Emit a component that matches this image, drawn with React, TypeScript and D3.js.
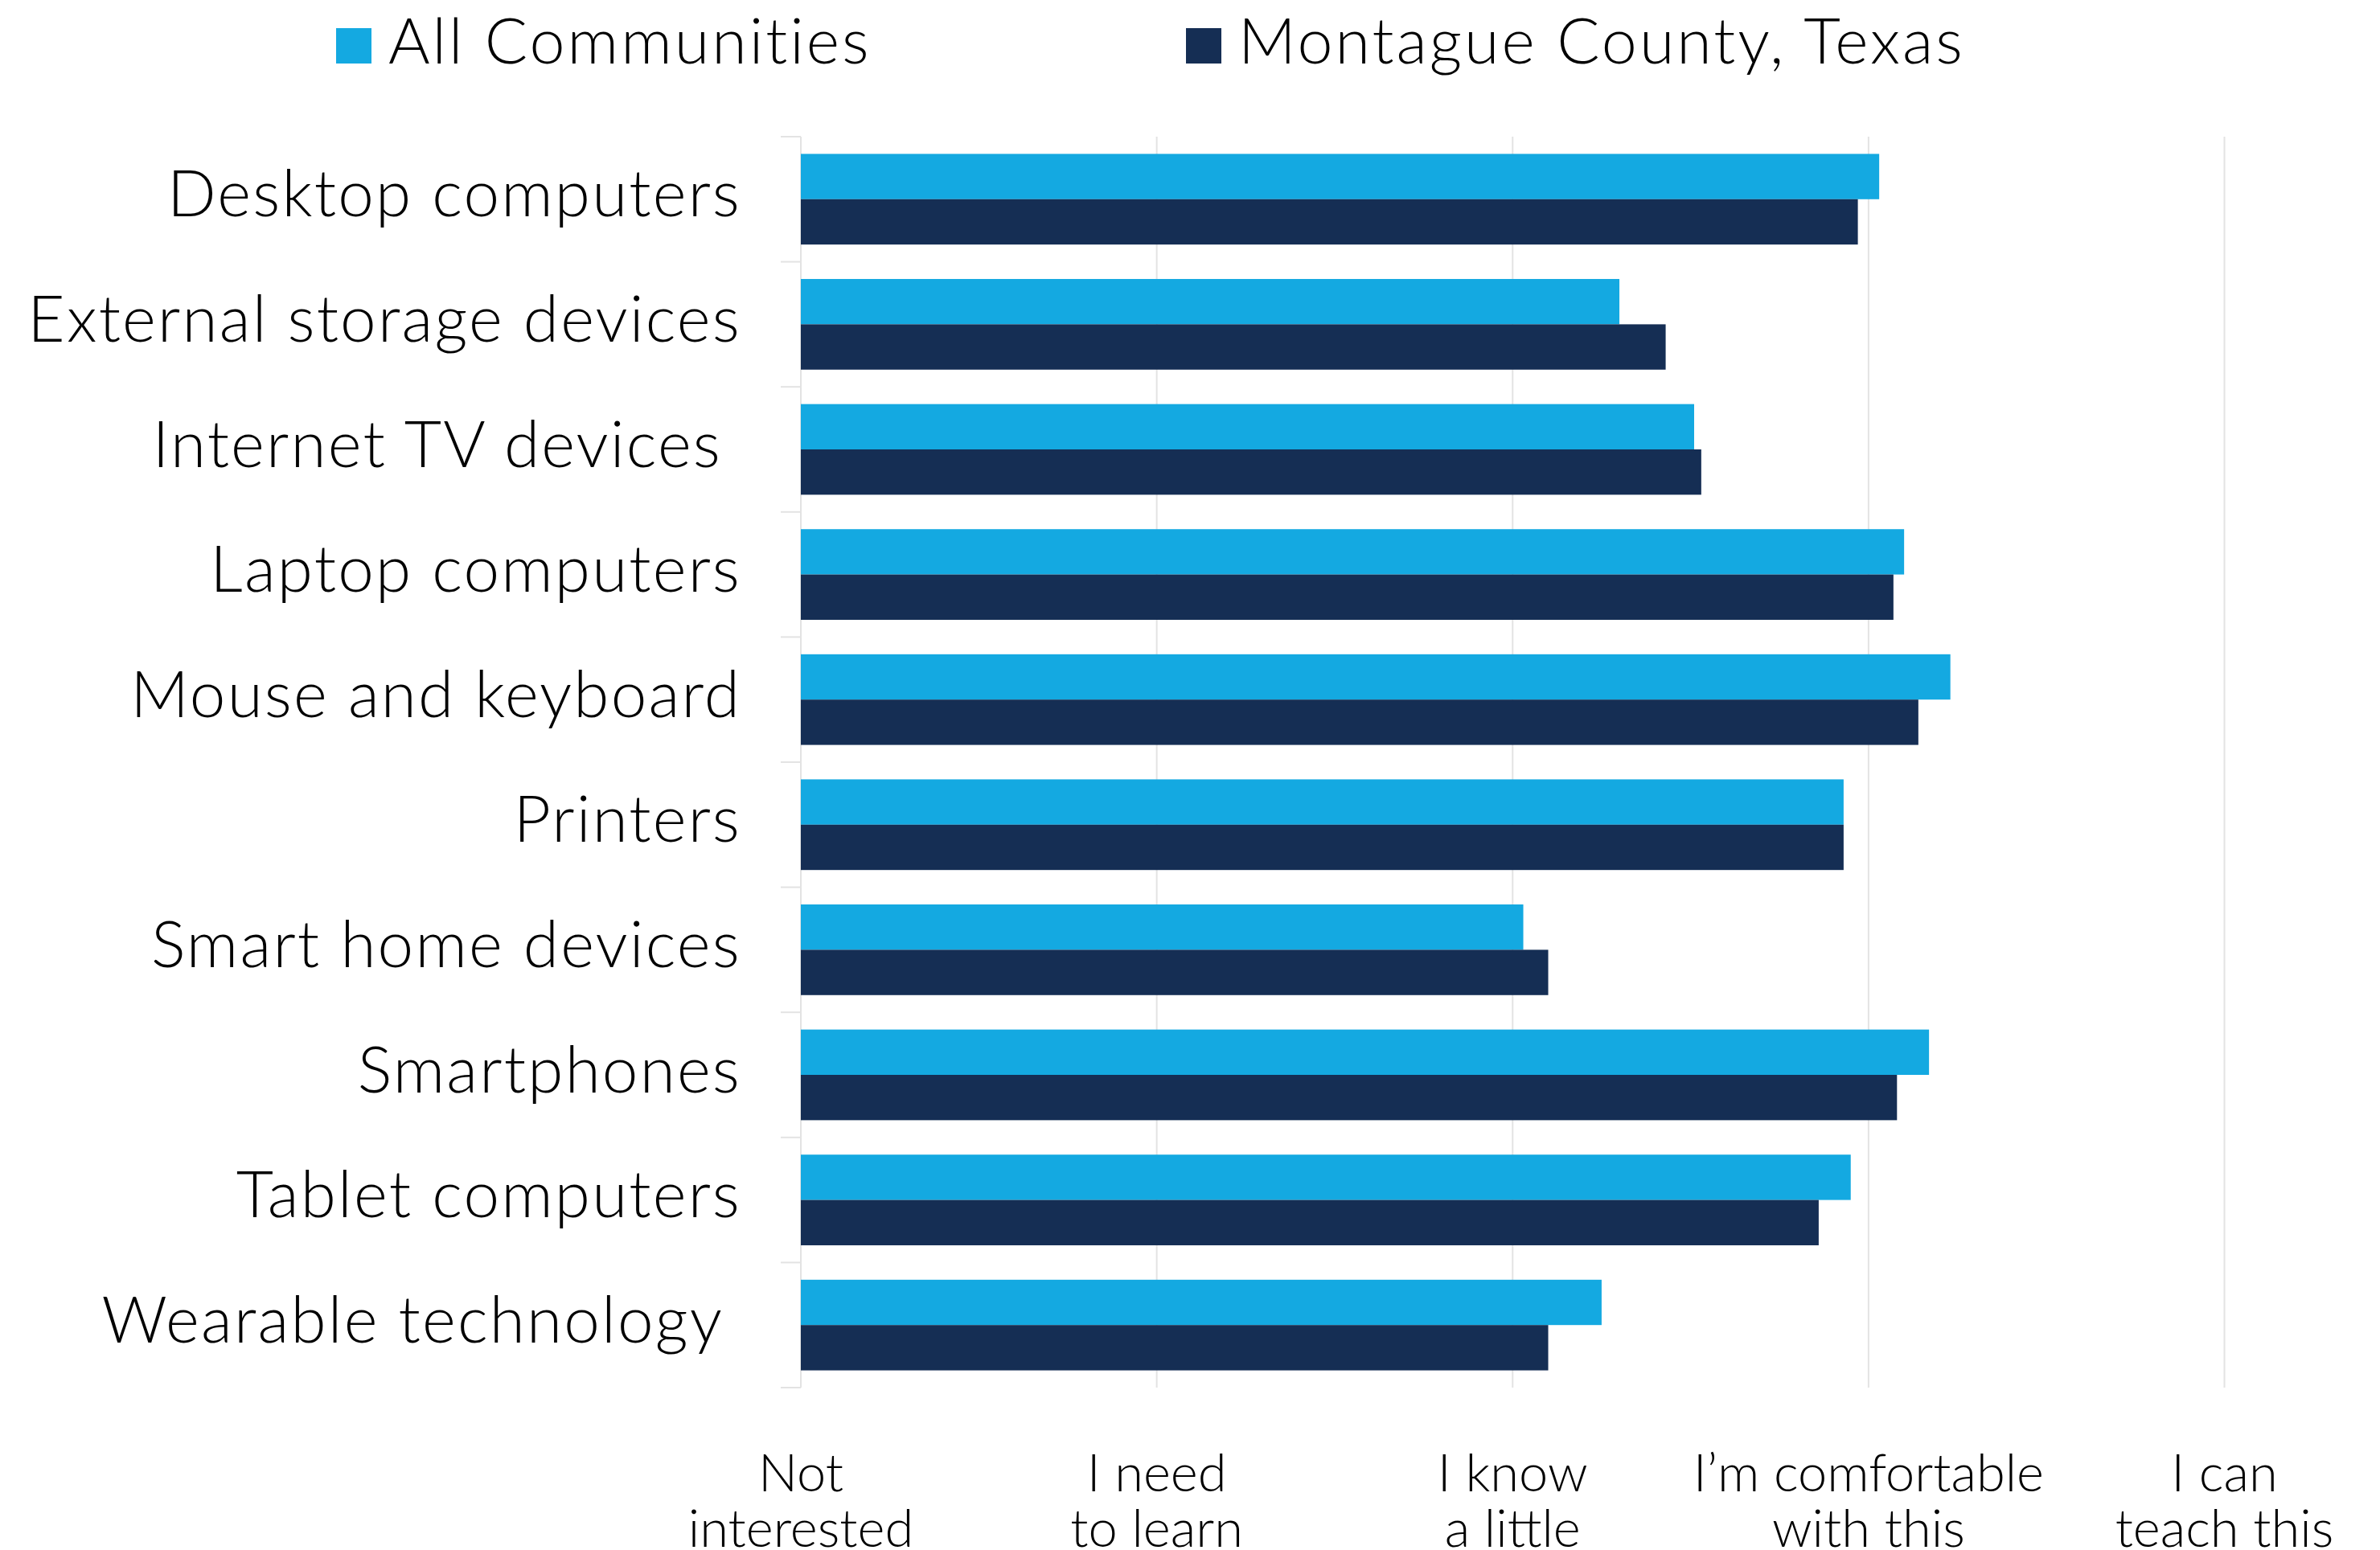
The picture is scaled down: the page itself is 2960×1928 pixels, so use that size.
import React from "react";
import * as d3 from "d3";

const categories = [
  "Desktop computers",
  "External storage devices",
  "Internet TV devices ",
  "Laptop computers",
  "Mouse and keyboard",
  "Printers",
  "Smart home devices",
  "Smartphones",
  "Tablet computers",
  "Wearable technology ",
];

const seriesNames = ["All Communities", "Montague County, Texas"];
const seriesColors = ["#14a9e1", "#152e54"];

const allCommunities = [4.03, 3.3, 3.51, 4.1, 4.23, 3.93, 3.03, 4.17, 3.95, 3.25];
const montagueCounty = [3.97, 3.43, 3.53, 4.07, 4.14, 3.93, 3.1, 4.08, 3.86, 3.1];

const tickValues = [1, 2, 3, 4, 5];
const tickLabels = [
  ["Not", "interested"],
  ["I need", "to learn"],
  ["I know", "a little"],
  ["I\u2019m comfortable", "with this"],
  ["I can", "teach this"],
];

const W = 2960;
const H = 1928;
const FONT = "Lato, 'Open Sans', sans-serif";

export default function App() {
  const x = d3.scaleLinear().domain([1, 5]).range([996, 2766.5]);
  const y = d3.scaleBand<string>().domain(categories).range([170, 1726]).padding(0);
  const inner = d3
    .scaleBand<string>()
    .domain(seriesNames)
    .range([0, y.bandwidth()])
    .paddingInner(0)
    .paddingOuter(0.38);
  const seriesValues = [allCommunities, montagueCounty];
  const gridColor = "#e3e3e3";

  return (
    <svg
      width={W}
      height={H}
      style={{ position: "absolute", left: 0, top: 0, background: "#fff" }}
      fontFamily={FONT}
    >
      <rect x={0} y={0} width={W} height={H} fill="#fff" />
      {/* gridlines */}
      {tickValues.map((t) => (
        <line
          key={"g" + t}
          x1={x(t)}
          x2={x(t)}
          y1={170}
          y2={1726}
          stroke={gridColor}
          strokeWidth={2}
        />
      ))}
      {/* y ticks at band edges */}
      {d3.range(categories.length + 1).map((i) => {
        const yy = 170 + i * y.step();
        return (
          <line
            key={"t" + i}
            x1={971}
            x2={996}
            y1={yy}
            y2={yy}
            stroke={gridColor}
            strokeWidth={2}
          />
        );
      })}
      {/* bars */}
      {categories.map((c, ci) =>
        seriesNames.map((s, si) => (
          <rect
            key={c + s}
            x={x(1)}
            y={(y(c) as number) + (inner(s) as number)}
            width={x(seriesValues[si][ci]) - x(1)}
            height={inner.bandwidth()}
            fill={seriesColors[si]}
          />
        ))
      )}
      {/* y labels */}
      {categories.map((c) => (
        <text
          key={"l" + c}
          x={922}
          y={(y(c) as number) + y.bandwidth() / 2 + 21.5}
          textAnchor="end"
          fontSize={80}
          fontWeight={300}
          letterSpacing={2.2}
          fill="#000"
          style={{ whiteSpace: "pre" }}
        >
          {c}
        </text>
      ))}
      {/* x labels */}
      {tickValues.map((t, i) => (
        <text
          key={"x" + t}
          x={x(t)}
          y={1855}
          textAnchor="middle"
          fontSize={65}
          fontWeight={300}
          fill="#000"
        >
          <tspan x={x(t)} dy={0}>
            {tickLabels[i][0]}
          </tspan>
          <tspan x={x(t)} dy={69}>
            {tickLabels[i][1]}
          </tspan>
        </text>
      ))}
      {/* legend */}
      {seriesNames.map((s, i) => {
        const lx = [418, 1475][i];
        return (
          <g key={"leg" + s}>
            <rect x={lx} y={35} width={44} height={44} fill={seriesColors[i]} />
            <text
              x={lx + 65}
              y={78.7}
              fontSize={79}
              fontWeight={300}
              letterSpacing={3}
              fill="#000"
            >
              {s}
            </text>
          </g>
        );
      })}
    </svg>
  );
}
